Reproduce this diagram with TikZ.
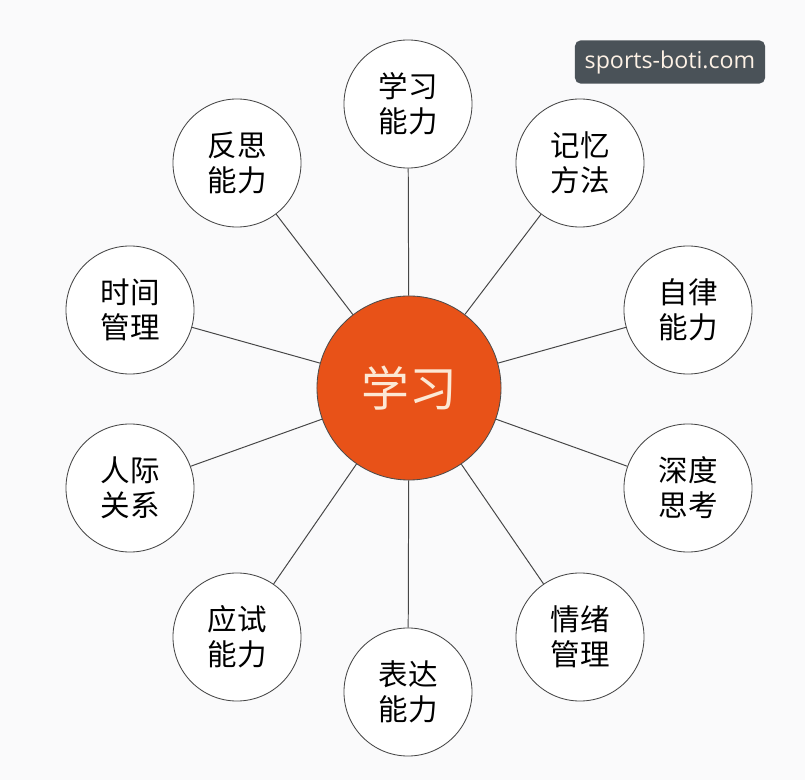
\documentclass[tikz,border=0pt]{standalone}
\usepackage{fontspec}
\setmainfont{Noto Sans CJK SC}
\newfontfamily\wmfont{Open Sans}
\usepackage{xcolor}
\usetikzlibrary{positioning,calc}

\definecolor{hubfill}{RGB}{232,82,24}
\definecolor{hubtext}{RGB}{252,232,212}
\definecolor{bgpaper}{RGB}{250,250,251}
\definecolor{wmgray}{RGB}{74,82,88}
\definecolor{linegray}{RGB}{70,70,70}

\tikzset{
  skill/.style={circle, draw=linegray, line width=0.6pt, fill=white, minimum size=3.2cm,
    inner sep=0pt, align=center, font=\fontsize{21}{25}\selectfont},
  hub/.style={circle, draw=black!70, line width=0.6pt, fill=hubfill, minimum size=4.6cm,
    text=hubtext, font=\fontsize{34}{38}\selectfont},
  spoke/.style={draw=linegray, line width=0.7pt}
}

\begin{document}
\begin{tikzpicture}[x=0.025cm, y=-0.025cm]
  % Paper
  \fill[bgpaper] (0,0) rectangle (805,780);
  \useasboundingbox (0,0) rectangle (805,780);

  % Hub
  \node[hub] (hub) at (409,388) {学习};

  % Skills around the hub
  \node[skill] (xuexi)  at (408,104) {学习\\能力};
  \node[skill] (jiyi)   at (580,163) {记忆\\方法};
  \node[skill] (zilv)   at (688,310) {自律\\能力};
  \node[skill] (shendu) at (688,488) {深度\\思考};
  \node[skill] (qingxu) at (580,637) {情绪\\管理};
  \node[skill] (biaoda) at (408,692) {表达\\能力};
  \node[skill] (yingshi) at (237,637) {应试\\能力};
  \node[skill] (renji)  at (130,488) {人际\\关系};
  \node[skill] (shijian) at (130,310) {时间\\管理};
  \node[skill] (fansi)  at (237,163) {反思\\能力};

  % Spokes
  \foreach \s in {xuexi,jiyi,zilv,shendu,qingxu,biaoda,yingshi,renji,shijian,fansi}
    \draw[spoke] (hub) -- (\s);

  % Watermark
  \node[fill=wmgray, rounded corners=4pt, minimum width=4.75cm, minimum height=1.08cm,
    text=hubtext!60!white, font=\wmfont\fontsize{16.5}{19}\selectfont] (mark) at (670,62) {sports-boti.com};
\end{tikzpicture}
\end{document}
